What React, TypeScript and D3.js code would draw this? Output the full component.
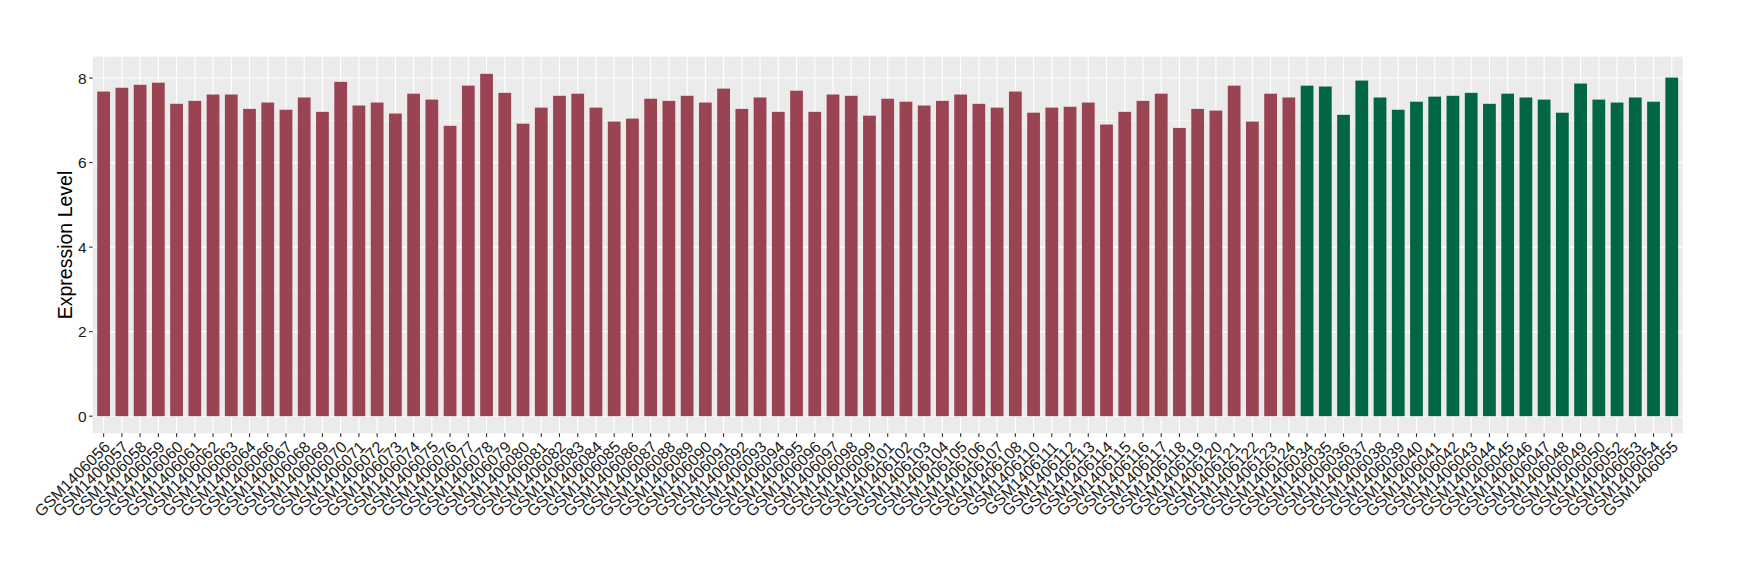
import React from "react";
import * as d3 from "d3";

// samples in the first group (red)
const groupA = [
  "GSM1406056", "GSM1406057", "GSM1406058", "GSM1406059", "GSM1406060", "GSM1406061", "GSM1406062",
  "GSM1406063", "GSM1406064", "GSM1406066", "GSM1406067", "GSM1406068", "GSM1406069", "GSM1406070",
  "GSM1406071", "GSM1406072", "GSM1406073", "GSM1406074", "GSM1406075", "GSM1406076", "GSM1406077",
  "GSM1406078", "GSM1406079", "GSM1406080", "GSM1406081", "GSM1406082", "GSM1406083", "GSM1406084",
  "GSM1406085", "GSM1406086", "GSM1406087", "GSM1406088", "GSM1406089", "GSM1406090", "GSM1406091",
  "GSM1406092", "GSM1406093", "GSM1406094", "GSM1406095", "GSM1406096", "GSM1406097", "GSM1406098",
  "GSM1406099", "GSM1406101", "GSM1406102", "GSM1406103", "GSM1406104", "GSM1406105", "GSM1406106",
  "GSM1406107", "GSM1406108", "GSM1406110", "GSM1406111", "GSM1406112", "GSM1406113", "GSM1406114",
  "GSM1406115", "GSM1406116", "GSM1406117", "GSM1406118", "GSM1406119", "GSM1406120", "GSM1406121",
  "GSM1406122", "GSM1406123", "GSM1406124",
];
const valuesA = [
  7.68, 7.77, 7.84, 7.89, 7.39, 7.46, 7.61, 7.61, 7.27, 7.42, 7.25, 7.54, 7.2, 7.91, 7.35, 7.42, 7.16,
  7.63, 7.49, 6.87, 7.82, 8.1, 7.65, 6.92, 7.3, 7.58, 7.63, 7.3, 6.97, 7.04, 7.51, 7.46, 7.58, 7.42,
  7.75, 7.27, 7.54, 7.2, 7.7, 7.2, 7.61, 7.58, 7.11, 7.51, 7.44, 7.35, 7.46, 7.61, 7.39, 7.3, 7.68,
  7.18, 7.3, 7.32, 7.42, 6.9, 7.2, 7.46, 7.63, 6.82, 7.27, 7.23, 7.82, 6.97, 7.63, 7.54,
];

// samples in the second group (green)
const groupB = [
  "GSM1406034", "GSM1406035", "GSM1406036", "GSM1406037", "GSM1406038", "GSM1406039", "GSM1406040",
  "GSM1406041", "GSM1406042", "GSM1406043", "GSM1406044", "GSM1406045", "GSM1406046", "GSM1406047",
  "GSM1406048", "GSM1406049", "GSM1406050", "GSM1406052", "GSM1406053", "GSM1406054", "GSM1406055",
];
const valuesB = [
  7.82, 7.8, 7.13, 7.94, 7.54, 7.25, 7.44, 7.56, 7.58, 7.65, 7.39, 7.63, 7.54, 7.49, 7.18, 7.87, 7.49,
  7.42, 7.54, 7.44, 8.01,
];

const yTicks = [0, 2, 4, 6, 8];
const yMinor = [1, 3, 5, 7];

const colorA = "#9a4352";
const colorB = "#006644";

type Bar = { id: string; value: number; color: string };

export default function App() {
  const width = 1740;
  const height = 580;
  const margin = { top: 56.7, right: 57.3, bottom: 146.7, left: 92.7 };
  const x0 = margin.left;
  const x1 = width - margin.right;
  const y0 = height - margin.bottom;
  const y1 = margin.top;

  const bars: Bar[] = [
    ...groupA.map((id, i) => ({ id, value: valuesA[i], color: colorA })),
    ...groupB.map((id, i) => ({ id, value: valuesB[i], color: colorB })),
  ];

  // ggplot-like expansion: 0.6 band on discrete axis, 5% on continuous
  const x = d3.scalePoint<string>().domain(bars.map((b) => b.id)).range([x0, x1]).padding(0.6);
  const bw = x.step() * 0.7;
  const vmax = d3.max(bars, (b) => b.value)!;
  const y = d3.scaleLinear().domain([-0.05 * vmax, vmax * 1.05]).range([y0, y1]);

  const font = "'Liberation Sans', Arial, sans-serif";

  return (
    <svg
      width={width}
      height={height}
      style={{ position: "absolute", left: 0, top: 0, background: "white" }}
      fontFamily={font}
    >
      <rect x={x0} y={y1} width={x1 - x0} height={y0 - y1} fill="#ebebeb" />
      {yMinor.map((t) => (
        <line key={"m" + t} x1={x0} x2={x1} y1={y(t)} y2={y(t)} stroke="white" strokeWidth={0.55} />
      ))}
      {yTicks.map((t) => (
        <line key={"g" + t} x1={x0} x2={x1} y1={y(t)} y2={y(t)} stroke="white" strokeWidth={1.1} />
      ))}
      {bars.map((b) => (
        <line key={"v" + b.id} x1={x(b.id)!} x2={x(b.id)!} y1={y1} y2={y0} stroke="white" strokeWidth={1.1} />
      ))}
      {bars.map((b) => (
        <rect
          key={"b" + b.id}
          x={x(b.id)! - bw / 2}
          y={y(b.value)}
          width={bw}
          height={y(0) - y(b.value)}
          fill={b.color}
        />
      ))}

      {/* y axis */}
      {yTicks.map((t) => (
        <g key={"yt" + t}>
          <line x1={x0 - 3.7} x2={x0} y1={y(t)} y2={y(t)} stroke="#333" strokeWidth={1.1} />
          <text x={x0 - 6} y={y(t)} dy="0.36em" textAnchor="end" fontSize={15.5} fill="#1a1a1a">
            {t}
          </text>
        </g>
      ))}
      <text
        transform={`translate(${65},${(y0 + y1) / 2}) rotate(-90)`}
        textAnchor="middle"
        dy="0.36em"
        fontSize={19.5}
        fill="black"
      >
        Expression Level
      </text>

      {/* x axis */}
      {bars.map((b) => (
        <g key={"xt" + b.id}>
          <line x1={x(b.id)!} x2={x(b.id)!} y1={y0} y2={y0 + 3.7} stroke="#333" strokeWidth={1.1} />
          <text
            transform={`translate(${x(b.id)! + 7.4},${y0 + 14.7}) rotate(-45)`}
            textAnchor="end"
            fontSize={16}
            fill="#1a1a1a"
          >
            {b.id}
          </text>
        </g>
      ))}
    </svg>
  );
}
